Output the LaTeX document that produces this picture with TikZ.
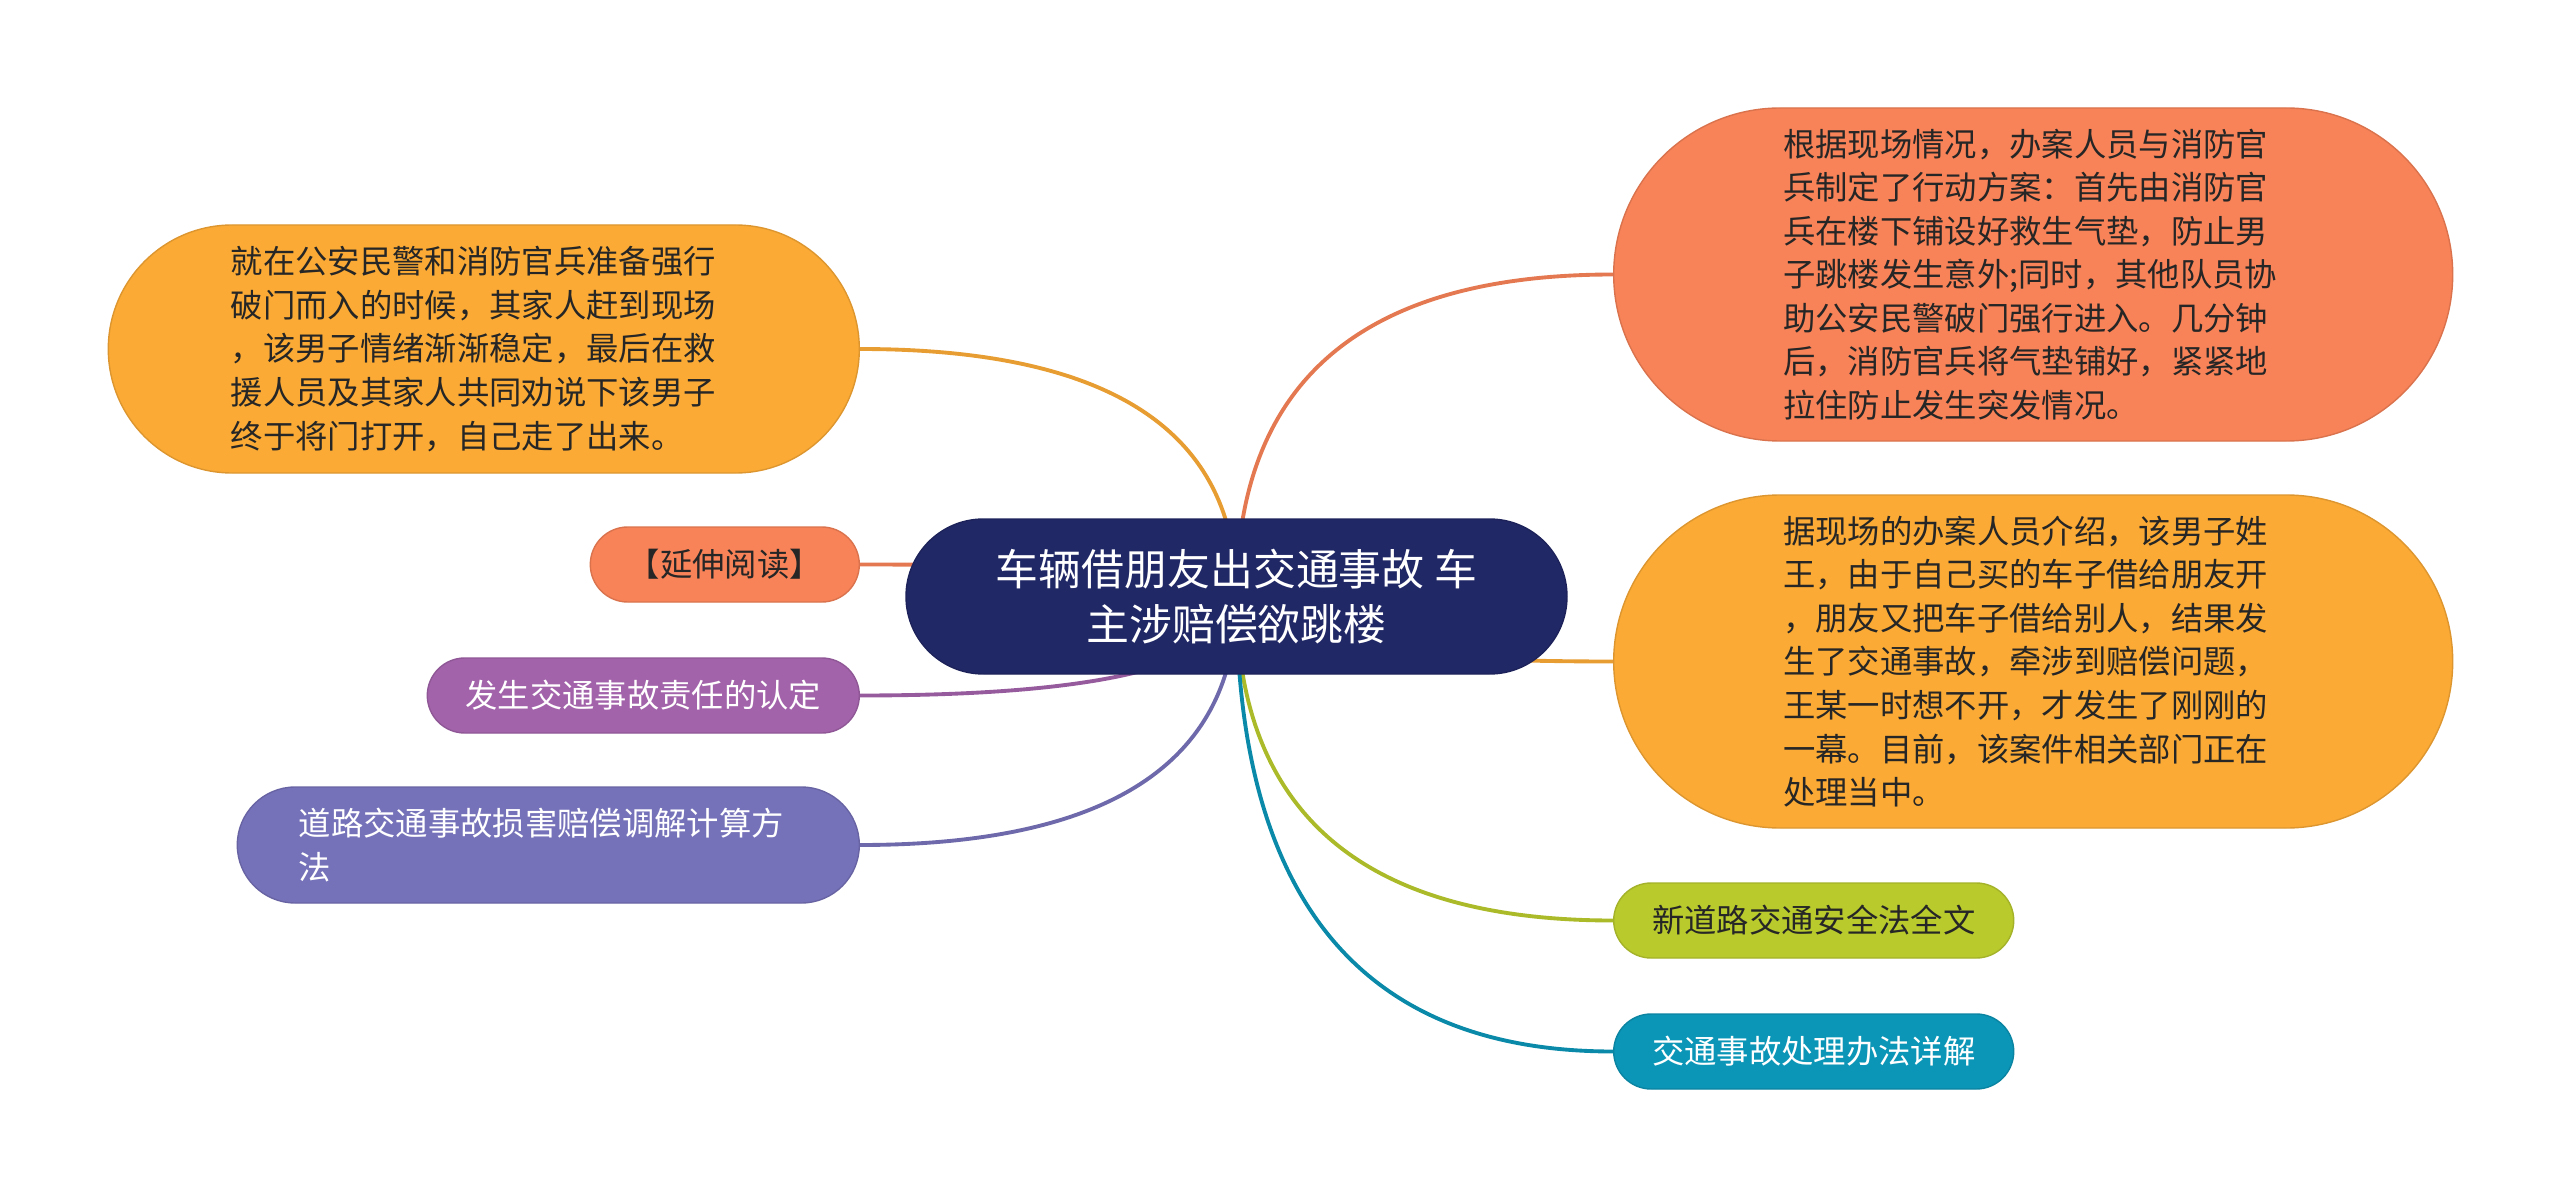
\documentclass[tikz,border=0pt]{standalone}
\usepackage{fontspec}
\setmainfont{Noto Sans CJK SC}
\usetikzlibrary{backgrounds}
\definecolor{rootnavy}{RGB}{33,40,102}
\definecolor{amber}{RGB}{251,171,53}
\definecolor{coral}{RGB}{248,131,88}
\definecolor{plum}{RGB}{163,99,170}
\definecolor{slate}{RGB}{118,114,186}
\definecolor{lime}{RGB}{185,202,45}
\definecolor{seablue}{RGB}{11,150,183}

\begin{document}
\begin{tikzpicture}[
    body/.style={rectangle, align=left, inner sep=0pt, font=\fontsize{9.2}{12.4}\selectfont},
    leaf/.style={body, rounded corners=0.375cm, minimum height=0.75cm},
    note/.style={body, rounded corners=1.665cm, minimum width=8.39cm, minimum height=3.33cm, text width=5cm},
    darktext/.style={fill=#1, draw=#1!88!black, text=black!85},
    lighttext/.style={fill=#1, draw=#1!88!black, text=white},
    link/.style={line width=1.1pt, draw=#1!92!black}
  ]
    \useasboundingbox (0,0) rectangle (25.6,11.97);

    % Tema central
    \node[lighttext=rootnavy, rounded corners=0.775cm, minimum width=6.61cm, minimum height=1.55cm, align=center, font=\fontsize{12.2}{15.8}\selectfont] (root) at (12.365,6.005) {车辆借朋友出交通事故 车\\主涉赔偿欲跳楼};

    % Lado izquierdo
    \node[body, darktext=amber, rounded corners=1.24cm, minimum width=7.51cm, minimum height=2.48cm, text width=5.06cm, anchor=east] (info1) at (8.6,8.48) {就在公安民警和消防官兵准备强行\\破门而入的时候，其家人赶到现场\\，该男子情绪渐渐稳定，最后在救\\援人员及其家人共同劝说下该男子\\终于将门打开，自己走了出来。};
    \node[leaf, darktext=coral, minimum width=2.69cm, anchor=east] (read) at (8.6,6.325) {【延伸阅读】};
    \node[leaf, lighttext=plum, minimum width=4.32cm, anchor=east] (resp) at (8.6,5.015) {发生交通事故责任的认定};
    \node[body, lighttext=slate, rounded corners=0.58cm, minimum width=6.22cm, minimum height=1.16cm, text width=4.99cm, anchor=east] (road) at (8.6,3.52) {道路交通事故损害赔偿调解计算方\\法};

    % Lado derecho
    \node[note, darktext=coral, anchor=west] (info2) at (16.13,9.225) {根据现场情况，办案人员与消防官\\兵制定了行动方案：首先由消防官\\兵在楼下铺设好救生气垫，防止男\\子跳楼发生意外;同时，其他队员协\\助公安民警破门强行进入。几分钟\\后，消防官兵将气垫铺好，紧紧地\\拉住防止发生突发情况。};
    \node[note, darktext=amber, anchor=west] (info3) at (16.13,5.355) {据现场的办案人员介绍，该男子姓\\王，由于自己买的车子借给朋友开\\，朋友又把车子借给别人，结果发\\生了交通事故，牵涉到赔偿问题，\\王某一时想不开，才发生了刚刚的\\一幕。目前，该案件相关部门正在\\处理当中。};
    \node[leaf, darktext=lime, minimum width=4cm, anchor=west] (law) at (16.13,2.765) {新道路交通安全法全文};
    \node[leaf, lighttext=seablue, minimum width=4cm, anchor=west] (rule) at (16.13,1.455) {交通事故处理办法详解};

    % Ramas
    \begin{scope}[on background layer]
      \draw[link=amber] (root.center) to[out=90, in=0, out distance=1.65cm, in distance=2.51cm] (info1.east);
      \draw[link=coral] (root.center) to[out=90, in=0, out distance=0.21cm, in distance=2.51cm] (read.east);
      \draw[link=plum] (root.center) to[out=-90, in=0, out distance=0.66cm, in distance=2.51cm] (resp.east);
      \draw[link=slate] (root.center) to[out=-90, in=0, out distance=1.65cm, in distance=2.51cm] (road.east);
      \draw[link=coral] (root.center) to[out=90, in=180, out distance=2.15cm, in distance=2.51cm] (info2.west);
      \draw[link=amber] (root.center) to[out=-90, in=180, out distance=0.43cm, in distance=2.51cm] (info3.west);
      \draw[link=lime] (root.center) to[out=-90, in=180, out distance=2.16cm, in distance=2.51cm] (law.west);
      \draw[link=seablue] (root.center) to[out=-90, in=180, out distance=3.03cm, in distance=2.51cm] (rule.west);
    \end{scope}
  \end{tikzpicture}
\end{document}
